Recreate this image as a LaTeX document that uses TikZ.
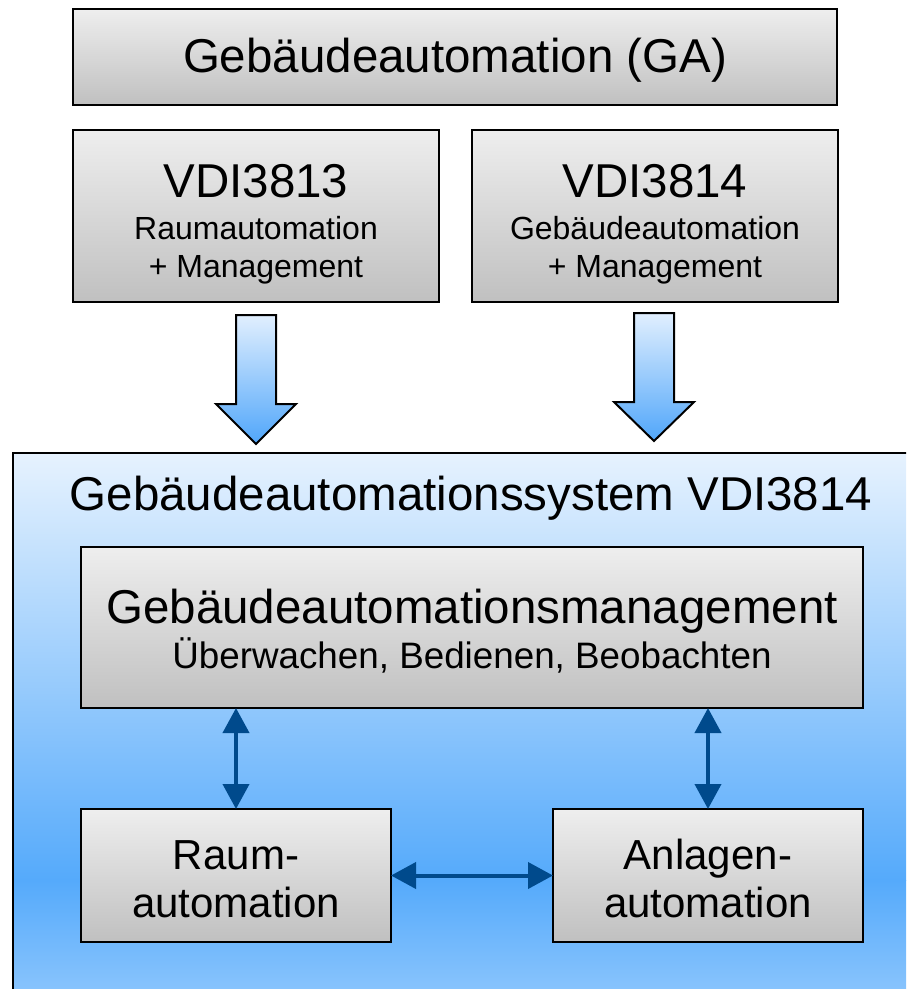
\documentclass[tikz,border=0pt]{standalone}
\usepackage{fontspec}
\setmainfont{Liberation Sans}
\usetikzlibrary{arrows.meta,calc}

\definecolor{boxtop}{RGB}{238,238,238}
\definecolor{boxbot}{RGB}{192,192,192}
\definecolor{systop}{RGB}{230,242,254}
\definecolor{sysmid}{RGB}{85,170,251}
\definecolor{sysbot}{RGB}{145,200,253}
\definecolor{arrtop}{RGB}{225,239,254}
\definecolor{arrbot}{RGB}{80,166,250}
\definecolor{linkblue}{RGB}{0,74,140}

\begin{document}
\begin{tikzpicture}[x=1pt,y=1pt,
  graybox/.style={draw=black, line width=2pt, top color=boxtop, bottom color=boxbot,
                  inner sep=0pt, outer sep=0pt},
  frame/.style={draw=black, line width=2pt, inner sep=0pt, outer sep=0pt},
  bigtxt/.style={font=\fontsize{47.5}{50}\selectfont, inner sep=0pt, anchor=base},
  midtxt/.style={font=\fontsize{42}{44}\selectfont, inner sep=0pt, anchor=base},
  subtxt/.style={font=\fontsize{36.8}{38}\selectfont, inner sep=0pt, anchor=base},
  smalltxt/.style={font=\fontsize{32}{34}\selectfont, inner sep=0pt, anchor=base},
  blockarrow/.style={draw=black, line width=2pt, line join=miter, top color=arrtop, bottom color=arrbot},
  link/.style={draw=linkblue, line width=4pt,
               {Triangle[length=25pt,width=26pt]}-{Triangle[length=25pt,width=26pt]}}
]
\useasboundingbox (0,0) rectangle (906,-989);
\clip (0,0) rectangle (906,-989);

% system frame background (two-part vertical gradient)
\shade[top color=systop, bottom color=sysmid] (13,-453) rectangle (930,-880);
\shade[top color=sysmid, bottom color=sysbot] (13,-880) rectangle (930,-1010);
\node[frame, minimum width=917pt, minimum height=557pt] (sys) at (471.5,-731.5) {};

% top level boxes
\node[graybox, minimum width=764pt, minimum height=96pt] (ga) at (455,-57) {};
\node[graybox, minimum width=366pt, minimum height=172pt] (v13) at (256,-216) {};
\node[graybox, minimum width=366pt, minimum height=172pt] (v14) at (655,-216) {};

% inner boxes
\node[graybox, minimum width=782pt, minimum height=161pt] (mg) at (472,-627.5) {};
\node[graybox, minimum width=310pt, minimum height=133pt] (rb) at (236,-875.5) {};
\node[graybox, minimum width=310pt, minimum height=133pt] (ab) at (708,-875.5) {};

% labels
\node[bigtxt] (gat) at (455,-72) {Gebäudeautomation (GA)};

\node[bigtxt] (v13a) at (256,-197) {VDI3813};
\node[smalltxt] (v13b) at (256,-239) {Raumautomation};
\node[smalltxt] (v13c) at (256,-277) {+ Management};

\node[bigtxt] (v14a) at (655,-197) {VDI3814};
\node[smalltxt] (v14b) at (655,-239) {Gebäudeautomation};
\node[smalltxt] (v14c) at (655,-277) {+ Management};

\node[bigtxt] (syst) at (471,-510) {Gebäudeautomationssystem VDI3814};

\node[bigtxt] (mga) at (472,-623) {Gebäudeautomationsmanagement};
\node[subtxt] (mgb) at (472,-668) {Überwachen, Bedienen, Beobachten};

\node[midtxt] (rba) at (236,-869) {Raum-};
\node[midtxt] (rbb) at (236,-917) {automation};
\node[midtxt] (aba) at (708,-869) {Anlagen-};
\node[midtxt] (abb) at (708,-917) {automation};

% block arrows from the standards to the system
\draw[blockarrow] ($(v13.south)+(-20,-13)$) -- ++(40,0) -- ++(0,-89) -- ++(20,0)
  -- ++(-40,-40) -- ++(-40,40) -- ++(20,0) -- cycle;
\draw[blockarrow] ($(v14.south)+(-21,-11)$) -- ++(40,0) -- ++(0,-89) -- ++(20,0)
  -- ++(-40,-39) -- ++(-40,39) -- ++(20,0) -- cycle;

% links between management and automation levels
\draw[link] (rb.north |- mg.south) -- (rb.north);
\draw[link] (ab.north |- mg.south) -- (ab.north);
\draw[link] (rb.east) -- (ab.west);
\end{tikzpicture}
\end{document}
